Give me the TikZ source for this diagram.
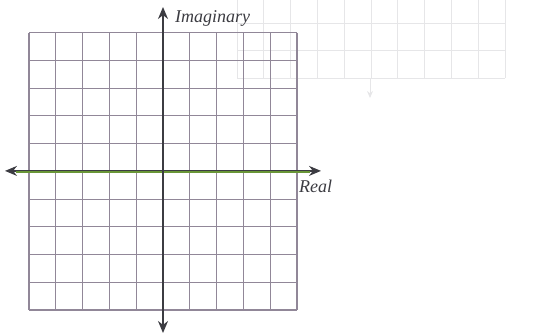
\documentclass[tikz,border=0pt]{standalone}
\usepackage{fontspec}
\setmainfont{Liberation Serif}
\usetikzlibrary{arrows.meta}
\definecolor{gridc}{RGB}{145,135,152}
\definecolor{axisc}{RGB}{60,60,66}
\definecolor{axisg}{RGB}{105,150,55}
\definecolor{ghost}{RGB}{230,230,232}
\tikzset{
  gridline/.style={draw=gridc, line width=1.1pt},
  ghostline/.style={draw=ghost, line width=0.9pt},
  axisline/.style={draw=axisc, line width=1.4pt, {Stealth[length=12pt,width=10pt]}-{Stealth[length=12pt,width=10pt]}},
  lab/.style={font=\itshape\fontsize{18}{20}\selectfont, text=axisc, inner sep=0pt}
}
\begin{document}
\begin{tikzpicture}[x=1pt,y=-1pt]
\useasboundingbox (0,0) rectangle (540,335);
% faint bleed-through grid (top right)
\foreach \i in {0,...,10} {
  \draw[ghostline] ({237+26.8*\i},0) -- ({237+26.8*\i},78);
}
\foreach \y in {23,50,78} {
  \draw[ghostline] (237,\y) -- (505,\y);
}
\draw[ghostline,-{Stealth[length=7pt,width=6pt]}] (370,78) -- (370,98);
% main grid
\foreach \i in {0,...,10} {
  \draw[gridline] ({29+26.8*\i},32.7) -- ({29+26.8*\i},310);
}
\foreach \j in {0,...,10} {
  \draw[gridline] (29,{32.7+27.73*\j}) -- (297,{32.7+27.73*\j});
}
% axes
\coordinate (L) at (5,170.9);
\coordinate (R) at (321,170.9);
\coordinate (T) at (163,7);
\coordinate (B) at (163,333);
\draw[axisline, line width=1.2pt] (L) -- (R);
\draw[draw=axisg, line width=1.3pt] (16,172.1) -- (310,172.1);
\draw[axisline] (B) -- (T);
% labels
\node[lab, anchor=base west] (im) at (175,22) {Imaginary};
\node[lab, anchor=base west] (re) at (299,192) {Real};
\end{tikzpicture}
\end{document}
